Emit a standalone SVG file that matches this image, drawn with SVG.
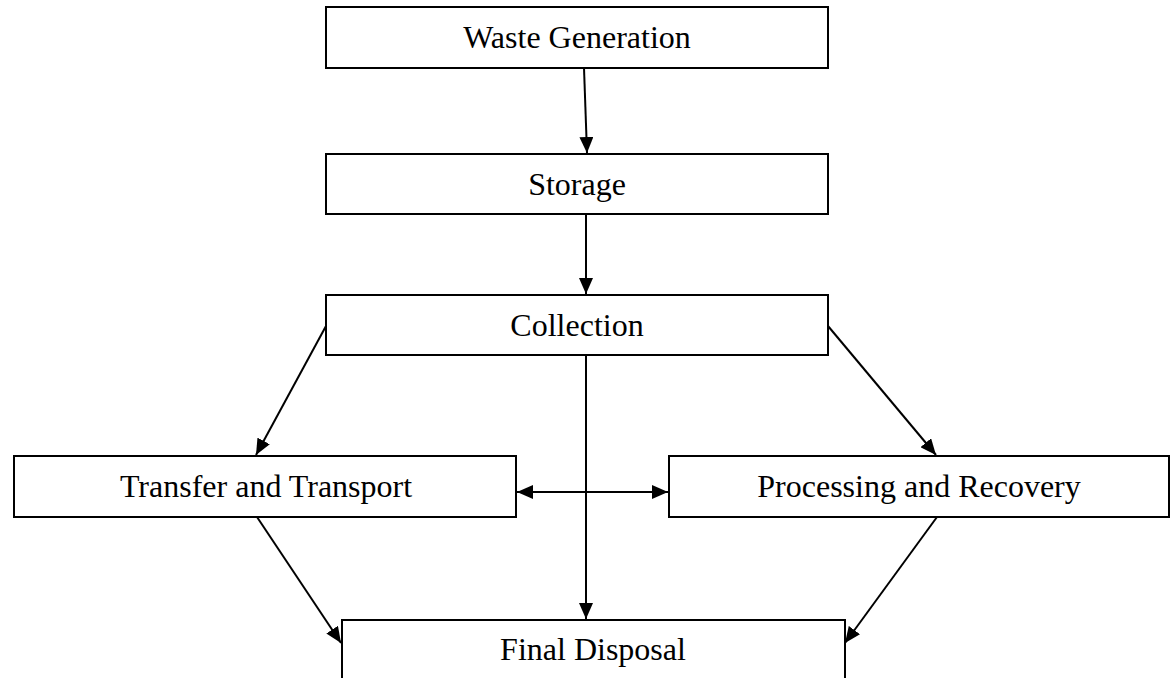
<svg xmlns="http://www.w3.org/2000/svg" width="1176" height="678" viewBox="0 0 1176 678">
<style>
.box{fill:#fff;stroke:#000;stroke-width:2}
.lbl{font-family:"Liberation Serif","Times New Roman",serif;font-size:32px;fill:#000;text-anchor:middle}
.con{stroke:#000;stroke-width:2;fill:none}
</style>
<defs>
<marker id="ah" viewBox="0 0 16 14" refX="16" refY="7" markerWidth="16" markerHeight="14" markerUnits="userSpaceOnUse" orient="auto-start-reverse">
<path d="M0,0 L16,7 L0,14 Z" fill="#000"/>
</marker>
</defs>
<rect width="1176" height="678" fill="#fff"/>
<g id="connectors">
<line class="con" x1="584" y1="68" x2="587" y2="153" marker-end="url(#ah)"/>
<line class="con" x1="586" y1="214" x2="586" y2="294" marker-end="url(#ah)"/>
<line class="con" x1="326" y1="326" x2="256" y2="455" marker-end="url(#ah)"/>
<line class="con" x1="828" y1="326" x2="936" y2="455" marker-end="url(#ah)"/>
<line class="con" x1="586" y1="355" x2="586" y2="619" marker-end="url(#ah)"/>
<line class="con" x1="517" y1="492" x2="668" y2="492" marker-start="url(#ah)" marker-end="url(#ah)"/>
<line class="con" x1="257" y1="517" x2="341" y2="643" marker-end="url(#ah)"/>
<line class="con" x1="937" y1="517" x2="845" y2="643" marker-end="url(#ah)"/>
</g>
<g id="waste-generation"><rect class="box" x="326" y="7" width="502" height="61"/><text class="lbl" x="577" y="48">Waste Generation</text></g>
<g id="storage"><rect class="box" x="326" y="154" width="502" height="60"/><text class="lbl" x="577" y="195">Storage</text></g>
<g id="collection"><rect class="box" x="326" y="295" width="502" height="60"/><text class="lbl" x="577" y="336">Collection</text></g>
<g id="transfer-transport"><rect class="box" x="14" y="456" width="502" height="61"/><text class="lbl" x="266" y="497">Transfer and Transport</text></g>
<g id="processing-recovery"><rect class="box" x="669" y="456" width="500" height="61"/><text class="lbl" x="919" y="497">Processing and Recovery</text></g>
<g id="final-disposal"><rect class="box" x="342" y="620" width="503" height="80"/><text class="lbl" x="593" y="660">Final Disposal</text></g>
</svg>
